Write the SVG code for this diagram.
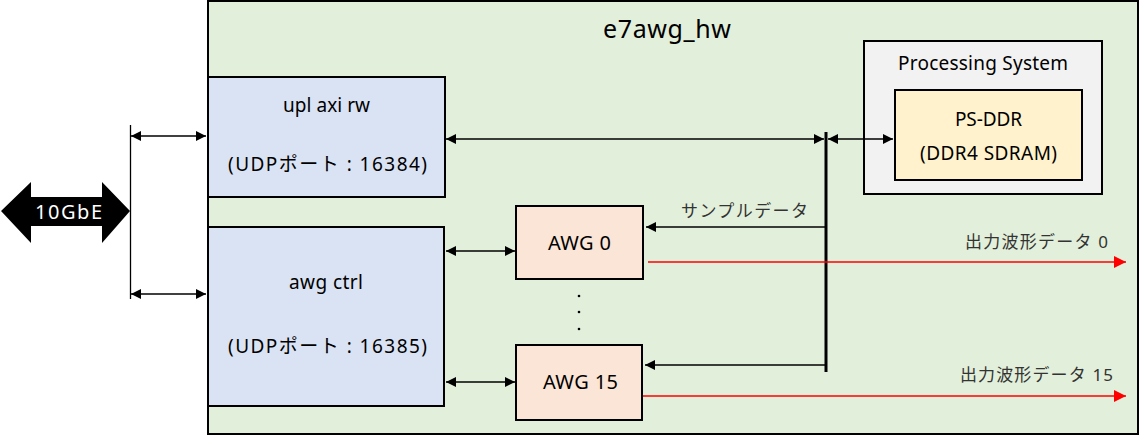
<svg xmlns="http://www.w3.org/2000/svg" width="1141" height="436" viewBox="0 0 1141 436">
<defs>
<marker id="ah" viewBox="0 0 10 10" refX="10" refY="5" markerWidth="10" markerHeight="10" markerUnits="userSpaceOnUse" orient="auto-start-reverse"><path d="M0,0 L10,5 L0,10 z" fill="#000"/></marker>
<marker id="ahr" viewBox="0 0 10 10" refX="10" refY="5" markerWidth="12" markerHeight="12" markerUnits="userSpaceOnUse" orient="auto"><path d="M0,0 L10,5 L0,10 z" fill="#f00"/></marker>
</defs>
<style>
text{font-family:"Noto Sans","Noto Sans CJK JP",sans-serif;fill:#000;text-anchor:middle}
.box{stroke:#000;stroke-width:2}
.ln{stroke:#000;stroke-width:1.3;fill:none}
.red{stroke:#f00;stroke-width:1.3;fill:none}
.t{font-size:19px}
.jp{font-size:17px;fill:#333}
</style>
<g id="e7awg_hw"><rect class="box" x="208" y="1" width="930" height="433" fill="#E2EFDA"/><text x="667" y="38" font-size="25" textLength="128" lengthAdjust="spacing">e7awg_hw</text></g>
<g id="upl"><rect class="box" x="208" y="77" width="237" height="120" fill="#DAE3F3"/><text class="t" x="326.5" y="112" textLength="87" lengthAdjust="spacing">upl axi rw</text><text class="t" x="327.5" y="171" textLength="199" lengthAdjust="spacing">(UDPポート : 16384)</text></g>
<g id="awgctrl"><rect class="box" x="208" y="227" width="236" height="179" fill="#DAE3F3"/><text class="t" x="326" y="289" textLength="74" lengthAdjust="spacing">awg ctrl</text><text class="t" x="327.5" y="353" textLength="199" lengthAdjust="spacing">(UDPポート : 16385)</text></g>
<g id="awg0"><rect class="box" x="516" y="206" width="127" height="73" fill="#FBE5D6"/><text x="579.5" y="250" font-size="20" textLength="63" lengthAdjust="spacing">AWG 0</text></g>
<g id="awg15"><rect class="box" x="516" y="345" width="126" height="75" fill="#FBE5D6"/><text x="580.5" y="389" font-size="20" textLength="75" lengthAdjust="spacing">AWG 15</text></g>
<g id="ps"><rect class="box" x="864" y="41" width="238" height="153" fill="#F2F2F2"/><text class="t" x="983" y="70" textLength="170" lengthAdjust="spacing">Processing System</text></g>
<g id="psddr"><rect class="box" x="895" y="90" width="187" height="90" fill="#FFF2CC"/><text class="t" x="988.5" y="126" textLength="67" lengthAdjust="spacing">PS-DDR</text><text class="t" x="988.5" y="160" textLength="137" lengthAdjust="spacing">(DDR4  SDRAM)</text></g>
<g id="gbe"><path d="M1,211 L31,182 L31,197 L102,197 L102,182 L130,211 L102,243 L102,226 L31,226 L31,243 Z" fill="#000"/><text x="68.5" y="219" font-size="20" textLength="67" lengthAdjust="spacing" style="fill:#fff">10GbE</text></g>
<g id="dots" fill="#000"><circle cx="579" cy="296" r="1.3"/><circle cx="579" cy="312" r="1.3"/><circle cx="579" cy="329" r="1.3"/></g>
<g id="connectors">
<line class="ln" x1="130.5" y1="125" x2="130.5" y2="299"/>
<line class="ln" x1="131" y1="136" x2="206" y2="136" marker-start="url(#ah)" marker-end="url(#ah)"/>
<line class="ln" x1="131" y1="294" x2="206" y2="294" marker-start="url(#ah)" marker-end="url(#ah)"/>
<line x1="826" y1="132" x2="826" y2="372" stroke="#000" stroke-width="3"/>
<line class="ln" x1="446" y1="139" x2="824" y2="139" marker-start="url(#ah)" marker-end="url(#ah)"/>
<line class="ln" x1="828" y1="139" x2="893" y2="139" marker-start="url(#ah)" marker-end="url(#ah)"/>
<line class="ln" x1="826" y1="227" x2="646" y2="227" marker-end="url(#ah)"/>
<text class="jp" x="744.5" y="217" textLength="127" lengthAdjust="spacing">サンプルデータ</text>
<line class="ln" x1="826" y1="365" x2="645" y2="365" marker-end="url(#ah)"/>
<line class="ln" x1="446" y1="251" x2="515" y2="251" marker-start="url(#ah)" marker-end="url(#ah)"/>
<line class="ln" x1="446" y1="382" x2="515" y2="382" marker-start="url(#ah)" marker-end="url(#ah)"/>
<line class="red" x1="648" y1="262" x2="1126" y2="262" marker-end="url(#ahr)"/>
<line class="red" x1="643" y1="396" x2="1126" y2="396" marker-end="url(#ahr)"/>
<text class="jp" x="1108" y="248" textLength="143" lengthAdjust="spacing" style="text-anchor:end">出力波形データ 0</text>
<text class="jp" x="1113" y="381" textLength="153" lengthAdjust="spacing" style="text-anchor:end">出力波形データ 15</text>
</g>
</svg>
